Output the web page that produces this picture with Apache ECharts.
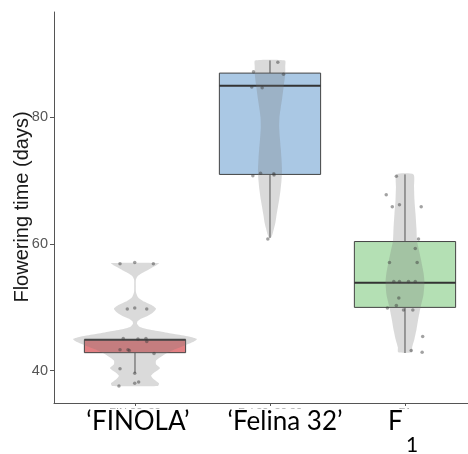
<!DOCTYPE html>
<html><head><meta charset="utf-8">
<script src="https://cdn.jsdelivr.net/npm/echarts@6/dist/echarts.min.js"></script>
<style>html,body{margin:0;padding:0;background:#fff}#c{width:468px;height:454px}</style>
</head><body><div id="c"></div>
<script>
// ---- data ----
const categories = ['‘FINOLA’', '‘Felina 32’', 'F'];
const categorySubscripts = ['', '', '1'];
const cutTickLabels = ['FIN 32  32', 'Fel 32  32 32', 'F1'];
const yTicks = [40, 60, 80];
const groupPositions = [1, 2, 3];

// box statistics: [lower whisker, Q1, median, Q3, upper whisker]
const finolaBox = [39.6, 42.85, 44.9, 44.9, 44.9];
const felinaBox = [61, 71, 85, 87, 89];
const f1Box = [42.8, 50, 53.9, 60.4, 71];

// violin profiles: [value, half width (category units)]
const finolaViolin = [[37.6,0.170],[38.0,0.178],[38.6,0.141],[39.2,0.119],[39.8,0.148],[40.4,0.185],[41.0,0.156],[41.6,0.156],[42.2,0.193],[42.8,0.237],[43.4,0.296],[44.0,0.37],[44.6,0.437],[45.0,0.459],[45.4,0.40],[45.8,0.29],[46.2,0.19],[46.6,0.085],[47.0,0.03],[47.4,0.015],[47.8,0.019],[48.2,0.044],[48.6,0.089],[49.2,0.133],[49.8,0.156],[50.4,0.119],[51.0,0.059],[51.6,0.022],[52.4,0.007],[53.4,0.006],[54.4,0.007],[55.0,0.022],[55.6,0.067],[56.2,0.119],[56.6,0.156],[57.0,0.178]];
const felinaViolin = [[61,0.007],[61.6,0.019],[62.5,0.03],[63.5,0.041],[64.5,0.048],[65.9,0.059],[67,0.068],[68.5,0.078],[70,0.085],[71.5,0.089],[73.5,0.085],[75,0.08],[76.5,0.074],[78.5,0.068],[80,0.07],[81.6,0.08],[83,0.09],[84.8,0.101],[86.9,0.113],[88,0.113],[89,0.111]];
const f1Violin = [[42.9,0.05],[43.7,0.053],[45,0.07],[46.5,0.085],[47.9,0.096],[50,0.115],[52,0.137],[54,0.144],[55.5,0.137],[57.5,0.119],[59,0.104],[60.5,0.089],[62.5,0.085],[64.8,0.078],[67,0.07],[69,0.067],[71,0.063]];

// jittered points: [x offset (category units), value]
const finolaPoints = [[-0.111,56.9],[-0.002,57.1],[0.136,56.9],[-0.057,49.75],[-0.002,49.9],[0.087,49.75],[-0.087,45.1],[0.022,45.0],[0.081,45.1],[0.087,44.6],[-0.111,43.3],[-0.052,43.3],[-0.042,43.2],[0.141,42.7],[-0.111,40.3],[-0.002,39.6],[-0.002,38.0],[0.027,38.2],[-0.119,37.6]];
const felinaPoints = [[0.058,88.7],[-0.122,87.2],[0.1,86.8],[-0.135,84.8],[-0.058,84.7],[-0.127,70.8],[-0.07,71.2],[0.028,71.1],[0.03,70.9],[-0.016,60.8]];
const f1Points = [[-0.064,70.7],[-0.139,67.8],[-0.094,65.9],[-0.041,66.2],[0.12,65.9],[0.1,60.8],[0.076,59.3],[-0.115,57.1],[0.09,57.1],[-0.083,54.1],[-0.041,54.1],[0.026,54.1],[0.076,54.1],[-0.046,51.5],[-0.13,49.9],[-0.064,50.3],[-0.011,49.6],[0.058,49.6],[0.131,45.4],[0.046,43.2],[0.127,42.9]];

// ---- styles ----
const boxColors = ['#E28083', '#AAC8E4', '#B4E0B4'];
const BOX_HALF = 0.375;

const boxes = [finolaBox, felinaBox, f1Box];
const violins = [finolaViolin, felinaViolin, f1Violin];
const pointSets = [finolaPoints, felinaPoints, f1Points];

const chart = echarts.init(document.getElementById('c'));

const boxData = groupPositions.map((x, i) => [x].concat(boxes[i]));
const violinData = groupPositions.map((x, i) => [x, violins[i][0][0], violins[i][violins[i].length - 1][0]]);
const scatterData = [];
pointSets.forEach((set, i) => set.forEach(p => scatterData.push([groupPositions[i] + p[0], p[1]])));

const axisColor = '#555';

chart.setOption({
  animation: false,
  grid: { left: 54, top: 12, right: 0, height: 391 },
  xAxis: {
    type: 'value', min: 0.4, max: 3.4667,
    axisLine: { lineStyle: { color: axisColor, width: 1 } },
    splitLine: { show: false },
    axisTick: { customValues: groupPositions, length: 3, lineStyle: { color: axisColor } },
    axisLabel: { customValues: groupPositions, formatter: v => cutTickLabels[Math.round(v) - 1], color: '#aaa', fontSize: 11, margin: 4, fontFamily: 'Liberation Sans' }
  },
  yAxis: {
    type: 'value', min: 34.9, max: 96.65,
    axisLine: { show: true, lineStyle: { color: axisColor, width: 1 } },
    splitLine: { show: false },
    axisTick: { show: true, customValues: yTicks, length: 4, lineStyle: { color: axisColor } },
    axisLabel: { customValues: yTicks, color: '#555', fontSize: 14.5, margin: 6, fontFamily: 'Liberation Sans' }
  },
  series: [
    {
      type: 'custom', z: 2, clip: false,
      encode: { x: 0, y: [1, 2, 3, 4, 5] },
      data: boxData,
      renderItem: function (params, api) {
        const i = params.dataIndex;
        const x = api.value(0);
        const low = api.value(1), q1 = api.value(2), med = api.value(3), q3 = api.value(4), high = api.value(5);
        const tl = api.coord([x - BOX_HALF, q3]);
        const br = api.coord([x + BOX_HALF, q1]);
        const pH = api.coord([x, high]), p3 = api.coord([x, q3]), p1 = api.coord([x, q1]), pL = api.coord([x, low]);
        const mL = api.coord([x - BOX_HALF, med]), mR = api.coord([x + BOX_HALF, med]);
        const ws = { stroke: '#444', lineWidth: 1 };
        return { type: 'group', children: [
          { type: 'line', shape: { x1: pH[0], y1: pH[1], x2: p3[0], y2: p3[1] }, style: ws },
          { type: 'line', shape: { x1: p1[0], y1: p1[1], x2: pL[0], y2: pL[1] }, style: ws },
          { type: 'rect', shape: { x: tl[0], y: tl[1], width: br[0] - tl[0], height: br[1] - tl[1] }, style: { fill: boxColors[i], stroke: '#444', lineWidth: 1 } },
          { type: 'line', shape: { x1: mL[0], y1: mL[1], x2: mR[0], y2: mR[1] }, style: { stroke: '#333', lineWidth: 2 } }
        ] };
      }
    },
    {
      type: 'custom', z: 3, clip: false,
      encode: { x: 0, y: [1, 2] },
      data: violinData,
      renderItem: function (params, api) {
        const i = params.dataIndex;
        const cx = api.value(0);
        const prof = violins[i];
        const pts = [];
        prof.forEach(([v, w]) => pts.push(api.coord([cx + w, v])));
        for (let k = prof.length - 1; k >= 0; k--) pts.push(api.coord([cx - prof[k][1], prof[k][0]]));
        return { type: 'polygon', shape: { points: pts, smooth: 0.2 }, style: { fill: 'rgba(120,120,120,0.27)' } };
      }
    },
    {
      type: 'scatter', z: 4,
      data: scatterData,
      symbolSize: 3.5,
      itemStyle: { color: 'rgba(60,60,60,0.6)' }
    }
  ],
  graphic: [
    { type: 'rect', z: 50, shape: { x: 0, y: 409, width: 468, height: 45 }, style: { fill: '#fff' } },
    { type: 'text', z: 60, x: 22, y: 207, rotation: Math.PI / 2,
      style: { text: 'Flowering time (days)', font: '20px "Liberation Sans"', fill: '#1a1a1a', align: 'center', verticalAlign: 'middle' } },
    { type: 'text', z: 60, x: 138, y: 422, style: { text: categories[0], font: '26px Lato', fill: '#000', align: 'center', verticalAlign: 'middle' } },
    { type: 'text', z: 60, x: 285, y: 422, style: { text: categories[1], font: '26px Lato', fill: '#000', align: 'center', verticalAlign: 'middle' } },
    { type: 'text', z: 60, x: 388, y: 422, style: { text: categories[2], font: '26px Lato', fill: '#000', align: 'left', verticalAlign: 'middle' } },
    { type: 'text', z: 60, x: 406, y: 445, style: { text: categorySubscripts[2], font: '21px Lato', fill: '#000', align: 'left', verticalAlign: 'middle' } }
  ]
});
</script>
</body></html>
